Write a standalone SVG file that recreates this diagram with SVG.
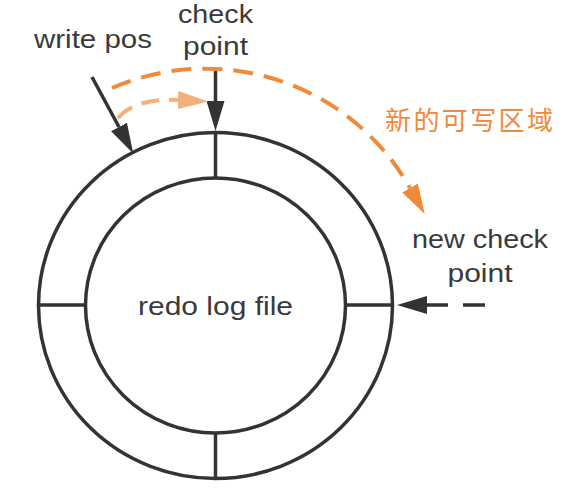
<svg xmlns="http://www.w3.org/2000/svg" width="586" height="488" viewBox="0 0 586 488">
<style>
.ln{fill:none;stroke:#333;stroke-width:3.5}
.t{font-family:"Liberation Sans","Noto Sans CJK SC",sans-serif;font-size:25px;fill:#3a3a3a;text-anchor:middle}
.cn{font-family:"Noto Sans CJK SC",sans-serif;font-size:26px;fill:#EF8A3A}
</style>
<defs>
<marker id="ah" markerUnits="userSpaceOnUse" markerWidth="30" markerHeight="20" viewBox="0 0 30 20" refX="0" refY="10" orient="auto"><path d="M0,1 L30,10 L0,19 Z" fill="#333"/></marker>
<marker id="ahO" markerUnits="userSpaceOnUse" markerWidth="30" markerHeight="20" viewBox="0 0 30 20" refX="0" refY="10" orient="auto"><path d="M0,1 L30,10 L0,19 Z" fill="#EF8A3A"/></marker>
<marker id="ahL" markerUnits="userSpaceOnUse" markerWidth="30" markerHeight="20" viewBox="0 0 30 20" refX="0" refY="10" orient="auto"><path d="M0,1 L30,10 L0,19 Z" fill="#F5B07A"/></marker>
</defs>
<g id="ring">
<ellipse class="ln" cx="215.5" cy="305.5" rx="177" ry="173"/>
<ellipse class="ln" cx="215.5" cy="305.5" rx="130" ry="127.5"/>
<line class="ln" x1="215.5" y1="132" x2="215.5" y2="178"/>
<line class="ln" x1="215.5" y1="433" x2="215.5" y2="479"/>
<line class="ln" x1="38" y1="305" x2="86" y2="305"/>
<line class="ln" x1="345" y1="305" x2="393" y2="305"/>
<text class="t" x="215.5" y="315" textLength="155" lengthAdjust="spacingAndGlyphs">redo log file</text>
</g>
<g id="checkpoint">
<text class="t" x="215.5" y="23" textLength="75" lengthAdjust="spacingAndGlyphs">check</text>
<text class="t" x="215.5" y="55" textLength="65" lengthAdjust="spacingAndGlyphs">point</text>
</g>
<g id="writepos">
<text class="t" x="93" y="48" textLength="118" lengthAdjust="spacingAndGlyphs">write pos</text>
</g>
<g id="newcheckpoint">
<text class="t" x="480" y="248" textLength="136" lengthAdjust="spacingAndGlyphs">new check</text>
<text class="t" x="480" y="282" textLength="65" lengthAdjust="spacingAndGlyphs">point</text>
</g>
<g id="newarea">
<text class="cn" x="385" y="130" textLength="168">新的可写区域</text>
</g>
<g id="connectors">
<line x1="215.5" y1="70" x2="215.5" y2="101" stroke="#333" stroke-width="3.5" marker-end="url(#ah)"/>
<line x1="92" y1="77" x2="119" y2="127" stroke="#333" stroke-width="3.5" marker-end="url(#ah)"/>
<line x1="485" y1="305" x2="427" y2="305" stroke="#333" stroke-width="3.5" stroke-dasharray="22,15" marker-end="url(#ah)"/>
<path d="M118,118 Q135,98 178,100" fill="none" stroke="#F5B07A" stroke-width="4" stroke-dasharray="18,10" marker-end="url(#ahL)"/>
<path d="M112,88 A235,235 0 0 1 410,188" fill="none" stroke="#EF8A3A" stroke-width="4" stroke-dasharray="20,11" marker-end="url(#ahO)"/>
</g>
</svg>
